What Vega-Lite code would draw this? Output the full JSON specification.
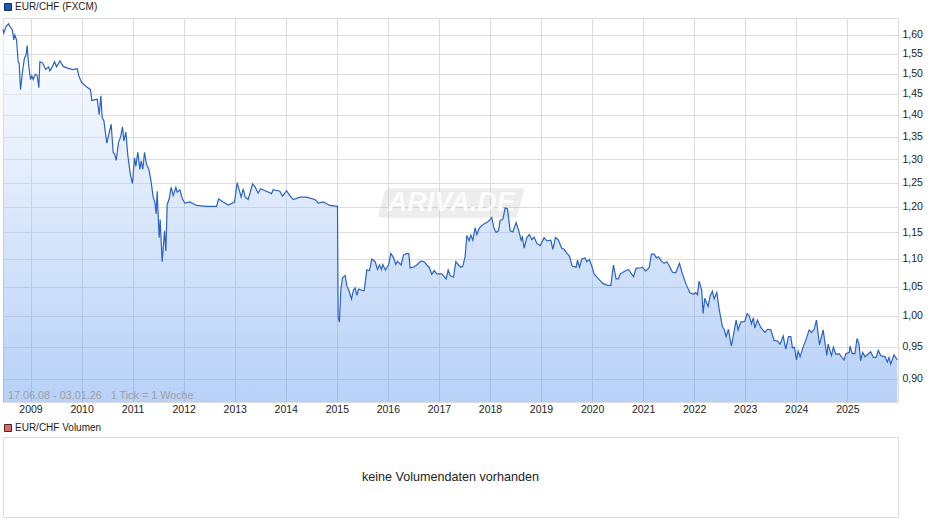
{"$schema":"https://vega.github.io/schema/vega-lite/v6.json","background":"white","padding":{"left":0,"top":1,"right":0,"bottom":0},"spacing":7,"resolve":{"scale":{"color":"independent"},"legend":{"color":"independent"}},"config":{"font":"Liberation Sans"},
"datasets":{"rate":[
{"t":2008.461,"v":1.615},{"t":2008.478,"v":1.605},{"t":2008.517,"v":1.622},{"t":2008.569,"v":1.63},{"t":2008.608,"v":1.62},{"t":2008.641,"v":1.615},{"t":2008.674,"v":1.587},{"t":2008.693,"v":1.6},{"t":2008.726,"v":1.587},{"t":2008.758,"v":1.53},{"t":2008.778,"v":1.525},{"t":2008.804,"v":1.46},{"t":2008.824,"v":1.483},{"t":2008.843,"v":1.505},{"t":2008.882,"v":1.54},{"t":2008.909,"v":1.545},{"t":2008.935,"v":1.572},{"t":2008.961,"v":1.525},{"t":2009.0,"v":1.485},{"t":2009.026,"v":1.494},{"t":2009.052,"v":1.485},{"t":2009.091,"v":1.498},{"t":2009.131,"v":1.495},{"t":2009.163,"v":1.465},{"t":2009.183,"v":1.53},{"t":2009.235,"v":1.527},{"t":2009.3,"v":1.51},{"t":2009.353,"v":1.517},{"t":2009.379,"v":1.507},{"t":2009.431,"v":1.518},{"t":2009.47,"v":1.53},{"t":2009.509,"v":1.517},{"t":2009.575,"v":1.532},{"t":2009.64,"v":1.518},{"t":2009.738,"v":1.513},{"t":2009.836,"v":1.51},{"t":2009.914,"v":1.512},{"t":2009.953,"v":1.492},{"t":2010.006,"v":1.477},{"t":2010.097,"v":1.467},{"t":2010.175,"v":1.46},{"t":2010.201,"v":1.434},{"t":2010.306,"v":1.437},{"t":2010.345,"v":1.4},{"t":2010.378,"v":1.445},{"t":2010.404,"v":1.393},{"t":2010.436,"v":1.387},{"t":2010.495,"v":1.335},{"t":2010.534,"v":1.355},{"t":2010.58,"v":1.378},{"t":2010.619,"v":1.315},{"t":2010.652,"v":1.31},{"t":2010.678,"v":1.297},{"t":2010.724,"v":1.337},{"t":2010.763,"v":1.348},{"t":2010.802,"v":1.372},{"t":2010.828,"v":1.34},{"t":2010.867,"v":1.36},{"t":2010.907,"v":1.307},{"t":2010.959,"v":1.265},{"t":2010.998,"v":1.248},{"t":2011.037,"v":1.303},{"t":2011.063,"v":1.285},{"t":2011.102,"v":1.315},{"t":2011.142,"v":1.278},{"t":2011.168,"v":1.296},{"t":2011.2,"v":1.278},{"t":2011.233,"v":1.315},{"t":2011.272,"v":1.288},{"t":2011.318,"v":1.278},{"t":2011.357,"v":1.255},{"t":2011.403,"v":1.22},{"t":2011.435,"v":1.21},{"t":2011.461,"v":1.186},{"t":2011.481,"v":1.232},{"t":2011.52,"v":1.14},{"t":2011.54,"v":1.175},{"t":2011.579,"v":1.095},{"t":2011.625,"v":1.153},{"t":2011.651,"v":1.115},{"t":2011.677,"v":1.205},{"t":2011.716,"v":1.216},{"t":2011.755,"v":1.24},{"t":2011.795,"v":1.223},{"t":2011.847,"v":1.24},{"t":2011.873,"v":1.23},{"t":2011.925,"v":1.235},{"t":2011.977,"v":1.216},{"t":2012.023,"v":1.208},{"t":2012.121,"v":1.21},{"t":2012.252,"v":1.203},{"t":2012.448,"v":1.201},{"t":2012.644,"v":1.201},{"t":2012.683,"v":1.216},{"t":2012.774,"v":1.21},{"t":2012.872,"v":1.204},{"t":2012.996,"v":1.21},{"t":2013.048,"v":1.25},{"t":2013.1,"v":1.23},{"t":2013.127,"v":1.22},{"t":2013.166,"v":1.237},{"t":2013.205,"v":1.22},{"t":2013.264,"v":1.215},{"t":2013.349,"v":1.247},{"t":2013.395,"v":1.242},{"t":2013.46,"v":1.228},{"t":2013.505,"v":1.237},{"t":2013.623,"v":1.232},{"t":2013.721,"v":1.227},{"t":2013.753,"v":1.235},{"t":2013.884,"v":1.232},{"t":2013.936,"v":1.222},{"t":2014.015,"v":1.233},{"t":2014.08,"v":1.223},{"t":2014.145,"v":1.215},{"t":2014.276,"v":1.22},{"t":2014.407,"v":1.22},{"t":2014.571,"v":1.215},{"t":2014.636,"v":1.208},{"t":2014.734,"v":1.21},{"t":2014.864,"v":1.203},{"t":2015.008,"v":1.201},
{"t":2015.013,"v":1.201},{"t":2015.026,"v":0.998},{"t":2015.052,"v":0.99},{"t":2015.078,"v":1.044},{"t":2015.111,"v":1.066},{"t":2015.163,"v":1.07},{"t":2015.196,"v":1.052},{"t":2015.235,"v":1.044},{"t":2015.287,"v":1.029},{"t":2015.326,"v":1.044},{"t":2015.359,"v":1.048},{"t":2015.392,"v":1.035},{"t":2015.425,"v":1.046},{"t":2015.49,"v":1.044},{"t":2015.535,"v":1.043},{"t":2015.588,"v":1.08},{"t":2015.64,"v":1.079},{"t":2015.686,"v":1.1},{"t":2015.751,"v":1.095},{"t":2015.797,"v":1.081},{"t":2015.836,"v":1.089},{"t":2015.875,"v":1.081},{"t":2015.901,"v":1.09},{"t":2015.953,"v":1.08},{"t":2016.012,"v":1.089},{"t":2016.058,"v":1.11},{"t":2016.11,"v":1.103},{"t":2016.156,"v":1.09},{"t":2016.188,"v":1.096},{"t":2016.26,"v":1.089},{"t":2016.306,"v":1.107},{"t":2016.358,"v":1.11},{"t":2016.41,"v":1.11},{"t":2016.436,"v":1.084},{"t":2016.502,"v":1.085},{"t":2016.567,"v":1.089},{"t":2016.645,"v":1.096},{"t":2016.711,"v":1.095},{"t":2016.763,"v":1.089},{"t":2016.809,"v":1.085},{"t":2016.861,"v":1.072},{"t":2016.907,"v":1.079},{"t":2016.959,"v":1.073},{"t":2017.057,"v":1.073},{"t":2017.142,"v":1.064},{"t":2017.181,"v":1.08},{"t":2017.22,"v":1.07},{"t":2017.286,"v":1.067},{"t":2017.331,"v":1.095},{"t":2017.384,"v":1.089},{"t":2017.43,"v":1.085},{"t":2017.469,"v":1.087},{"t":2017.514,"v":1.105},{"t":2017.547,"v":1.144},{"t":2017.592,"v":1.134},{"t":2017.625,"v":1.145},{"t":2017.664,"v":1.135},{"t":2017.71,"v":1.159},{"t":2017.743,"v":1.146},{"t":2017.795,"v":1.159},{"t":2017.873,"v":1.166},{"t":2017.938,"v":1.169},{"t":2017.984,"v":1.173},{"t":2018.036,"v":1.179},{"t":2018.075,"v":1.159},{"t":2018.121,"v":1.15},{"t":2018.167,"v":1.153},{"t":2018.199,"v":1.173},{"t":2018.252,"v":1.176},{"t":2018.298,"v":1.198},{"t":2018.343,"v":1.196},{"t":2018.396,"v":1.153},{"t":2018.448,"v":1.151},{"t":2018.513,"v":1.169},{"t":2018.565,"v":1.153},{"t":2018.611,"v":1.135},{"t":2018.637,"v":1.141},{"t":2018.67,"v":1.12},{"t":2018.722,"v":1.14},{"t":2018.774,"v":1.146},{"t":2018.82,"v":1.136},{"t":2018.866,"v":1.141},{"t":2018.918,"v":1.129},{"t":2018.983,"v":1.125},{"t":2019.061,"v":1.14},{"t":2019.114,"v":1.134},{"t":2019.192,"v":1.135},{"t":2019.231,"v":1.118},{"t":2019.284,"v":1.14},{"t":2019.336,"v":1.136},{"t":2019.407,"v":1.12},{"t":2019.453,"v":1.118},{"t":2019.505,"v":1.111},{"t":2019.558,"v":1.105},{"t":2019.61,"v":1.087},{"t":2019.688,"v":1.085},{"t":2019.714,"v":1.098},{"t":2019.753,"v":1.085},{"t":2019.799,"v":1.1},{"t":2019.865,"v":1.102},{"t":2019.897,"v":1.095},{"t":2019.949,"v":1.099},{"t":2019.995,"v":1.087},{"t":2020.041,"v":1.073},{"t":2020.093,"v":1.067},{"t":2020.158,"v":1.061},{"t":2020.21,"v":1.056},{"t":2020.289,"v":1.053},{"t":2020.367,"v":1.052},{"t":2020.419,"v":1.089},{"t":2020.471,"v":1.064},{"t":2020.517,"v":1.064},{"t":2020.55,"v":1.073},{"t":2020.648,"v":1.078},{"t":2020.713,"v":1.081},{"t":2020.811,"v":1.068},{"t":2020.863,"v":1.083},{"t":2020.954,"v":1.084},{"t":2020.987,"v":1.085},{"t":2021.052,"v":1.078},{"t":2021.118,"v":1.084},{"t":2021.163,"v":1.109},{"t":2021.215,"v":1.109},{"t":2021.261,"v":1.102},{"t":2021.3,"v":1.104},{"t":2021.359,"v":1.096},{"t":2021.411,"v":1.092},{"t":2021.464,"v":1.095},{"t":2021.509,"v":1.088},{"t":2021.575,"v":1.076},{"t":2021.64,"v":1.075},{"t":2021.712,"v":1.092},{"t":2021.77,"v":1.073},{"t":2021.836,"v":1.056},{"t":2021.914,"v":1.04},{"t":2021.986,"v":1.037},{"t":2022.032,"v":1.04},{"t":2022.064,"v":1.036},{"t":2022.097,"v":1.06},{"t":2022.149,"v":1.044},{"t":2022.175,"v":1.004},{"t":2022.208,"v":1.03},{"t":2022.273,"v":1.016},{"t":2022.312,"v":1.034},{"t":2022.358,"v":1.042},{"t":2022.391,"v":1.029},{"t":2022.443,"v":1.04},{"t":2022.489,"v":1.012},{"t":2022.554,"v":0.982},{"t":2022.587,"v":0.978},{"t":2022.626,"v":0.966},{"t":2022.672,"v":0.978},{"t":2022.704,"v":0.962},{"t":2022.73,"v":0.951},{"t":2022.77,"v":0.969},{"t":2022.822,"v":0.993},{"t":2022.861,"v":0.977},{"t":2022.913,"v":0.99},{"t":2022.991,"v":0.991},{"t":2023.037,"v":1.004},{"t":2023.083,"v":1.0},{"t":2023.122,"v":0.987},{"t":2023.161,"v":0.997},{"t":2023.188,"v":0.98},{"t":2023.24,"v":0.993},{"t":2023.305,"v":0.981},{"t":2023.383,"v":0.973},{"t":2023.436,"v":0.978},{"t":2023.501,"v":0.977},{"t":2023.566,"v":0.96},{"t":2023.631,"v":0.959},{"t":2023.684,"v":0.954},{"t":2023.743,"v":0.967},{"t":2023.795,"v":0.946},{"t":2023.847,"v":0.966},{"t":2023.893,"v":0.966},{"t":2023.926,"v":0.948},{"t":2023.965,"v":0.949},{"t":2024.004,"v":0.929},{"t":2024.037,"v":0.943},{"t":2024.076,"v":0.934},{"t":2024.129,"v":0.948},{"t":2024.194,"v":0.962},{"t":2024.253,"v":0.977},{"t":2024.298,"v":0.973},{"t":2024.35,"v":0.978},{"t":2024.396,"v":0.993},{"t":2024.455,"v":0.953},{"t":2024.526,"v":0.977},{"t":2024.598,"v":0.936},{"t":2024.624,"v":0.954},{"t":2024.689,"v":0.936},{"t":2024.728,"v":0.949},{"t":2024.774,"v":0.938},{"t":2024.839,"v":0.939},{"t":2024.937,"v":0.929},{"t":2024.97,"v":0.939},{"t":2025.039,"v":0.941},{"t":2025.052,"v":0.951},{"t":2025.098,"v":0.939},{"t":2025.15,"v":0.939},{"t":2025.19,"v":0.963},{"t":2025.229,"v":0.954},{"t":2025.261,"v":0.928},{"t":2025.301,"v":0.941},{"t":2025.346,"v":0.934},{"t":2025.458,"v":0.942},{"t":2025.51,"v":0.933},{"t":2025.562,"v":0.933},{"t":2025.608,"v":0.944},{"t":2025.654,"v":0.936},{"t":2025.739,"v":0.934},{"t":2025.784,"v":0.926},{"t":2025.817,"v":0.933},{"t":2025.85,"v":0.923},{"t":2025.915,"v":0.937},{"t":2025.98,"v":0.929}
]},
"vconcat":[
{"width":895,"height":384,"view":{"stroke":"#dcdcdc","strokeWidth":1},
"encoding":{
"x":{"field":"t","type":"quantitative","scale":{"domain":[2008.461,2025.993],"nice":false,"zero":false},"axis":{"title":null,"values":[2009,2010,2011,2012,2013,2014,2015,2016,2017,2018,2019,2020,2021,2022,2023,2024,2025],"format":"d","grid":true,"gridColor":"#dcdcdc","gridWidth":1,"ticks":false,"domain":false,"labelFontSize":10.5,"labelColor":"#222222","labelPadding":2,"labelOverlap":false,"labelFlush":false}},
"y":{"field":"v","type":"quantitative","scale":{"type":"log","domain":[0.866,1.646],"nice":false},"axis":{"title":null,"orient":"right","values":[0.9,0.95,1.0,1.05,1.1,1.15,1.2,1.25,1.3,1.35,1.4,1.45,1.5,1.55,1.6],"labelExpr":"replace(format(datum.value,'.2f'),'.',',')","grid":true,"gridColor":"#dcdcdc","gridWidth":1,"ticks":false,"domain":false,"labelFontSize":10.5,"labelColor":"#222222","labelPadding":4,"labelOverlap":false}}
},
"layer":[
{"data":{"values":[{"t":2017.24,"v":1.208,"s":"ARIVA.DE"}]},"mark":{"type":"point","filled":true,"shape":"M-0.82,-0.2 L0.94,-0.2 Q1,-0.2 0.98,-0.15 L0.9,0.15 Q0.88,0.2 0.82,0.2 L-0.94,0.2 Q-1,0.2 -0.98,0.15 L-0.9,-0.15 Q-0.88,-0.2 -0.82,-0.2 Z","size":21900,"color":"#c4c4c4","opacity":0.3}},
{"data":{"values":[{"t":2017.24,"v":1.208,"s":"ARIVA.DE"}]},"mark":{"type":"text","fontSize":27,"fontStyle":"italic","fontWeight":"bold","font":"Liberation Sans","color":"#ffffff","opacity":0.85,"baseline":"middle"},"encoding":{"text":{"field":"s"}}},
{"data":{"name":"rate"},"mark":{"type":"area","opacity":0.42,"color":{"gradient":"linear","x1":0,"y1":0,"x2":0,"y2":1,"stops":[{"offset":0,"color":"#ffffff"},{"offset":1,"color":"#5591ed"}]}},"encoding":{"y2":{"datum":0.866}}},
{"data":{"name":"rate"},"mark":{"type":"line","color":"#2a63c0","strokeWidth":1.2,"interpolate":"linear"}},
{"data":{"values":[{"t":2008.56,"v":0.875,"s":"17.06.08 - 03.01.26\u00a0\u00a0\u00a01 Tick = 1 Woche"}]},"mark":{"type":"text","align":"left","baseline":"middle","fontSize":10.8,"color":"#9a9a9a","opacity":0.85},"encoding":{"text":{"field":"s"}}},
{"data":{"values":[{"t":2009,"v":1,"series":"EUR/CHF (FXCM)"}]},"mark":{"type":"point","filled":true,"opacity":0,"size":1},"encoding":{"color":{"field":"series","type":"nominal","scale":{"domain":["EUR/CHF (FXCM)"],"range":["#1c5bb5"]},"legend":{"title":null,"orient":"none","legendX":0,"legendY":-16,"symbolType":"square","symbolSize":49,"symbolOpacity":1,"symbolStrokeColor":"#1a2b5a","symbolStrokeWidth":1,"labelFontSize":10,"labelColor":"#222222","labelOffset":2,"padding":0}}}}
]},
{"width":895,"height":80,"view":{"stroke":"#dcdcdc","strokeWidth":1},
"data":{"values":[{"label":"keine Volumendaten vorhanden","series":"EUR/CHF Volumen"}]},
"layer":[
{"mark":{"type":"text","fontSize":12.6,"color":"#222222"},"encoding":{"text":{"field":"label"}}},
{"mark":{"type":"point","filled":true,"opacity":0,"size":1},"encoding":{"color":{"field":"series","type":"nominal","scale":{"domain":["EUR/CHF Volumen"],"range":["#d96a6a"]},"legend":{"title":null,"orient":"none","legendX":0,"legendY":-14,"symbolType":"square","symbolSize":49,"symbolOpacity":1,"symbolStrokeColor":"#5a2020","symbolStrokeWidth":1,"labelFontSize":10,"labelColor":"#222222","labelOffset":2,"padding":0}}}}
]}
]}
